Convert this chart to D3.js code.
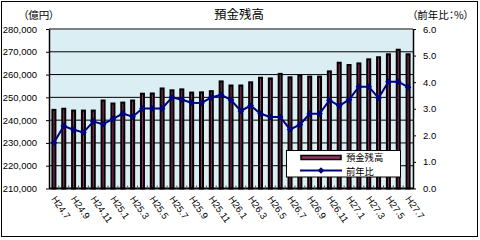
<!DOCTYPE html>
<html>
<head>
<meta charset="utf-8">
<script src="https://cdn.jsdelivr.net/npm/d3@7"></script>
<style>
  body { margin: 0; background: #fff; }
  text { font-family: "Liberation Sans", "Noto Sans CJK JP", sans-serif; }
  .jp { font-family: "Noto Sans CJK JP", sans-serif; font-feature-settings: "palt"; }
</style>
</head>
<body>
<div id="chart"></div>
<script>
// data
var months = ["H24.7","H24.8","H24.9","H24.10","H24.11","H24.12",
  "H25.1","H25.2","H25.3","H25.4","H25.5","H25.6","H25.7","H25.8","H25.9","H25.10","H25.11","H25.12",
  "H26.1","H26.2","H26.3","H26.4","H26.5","H26.6","H26.7","H26.8","H26.9","H26.10","H26.11","H26.12",
  "H27.1","H27.2","H27.3","H27.4","H27.5","H27.6","H27.7"];

// 預金残高 (億円)
var balance = [244500, 245000, 244200, 244200, 244200, 248600,
  247300, 247700, 248600, 251600, 251700, 253900, 253100, 253500, 252100, 252200, 252700, 257000,
  255200, 255200, 256600, 258600, 258300, 260300, 258800, 259700, 259100, 259100, 261400, 265200,
  264200, 264900, 266700, 267600, 268900, 270900, 268900];

// 前年比 (%)
var yoy = [1.72, 2.35, 2.21, 2.11, 2.52, 2.42,
  2.62, 2.82, 2.70, 3.01, 3.01, 3.01, 3.43, 3.34, 3.23, 3.22, 3.43, 3.52,
  3.33, 2.92, 3.12, 2.81, 2.69, 2.69, 2.22, 2.40, 2.81, 2.81, 3.32, 3.11,
  3.34, 3.83, 3.83, 3.40, 4.02, 4.02, 3.81];

var leftTicks = [210000, 220000, 230000, 240000, 250000, 260000, 270000, 280000];
var rightTicks = [0, 1, 2, 3, 4, 5, 6];

var W = 480, H = 240;
var plot = {left: 49, right: 413, top: 29, bottom: 188.5};

var svg = d3.select("#chart").append("svg")
    .attr("width", W)
    .attr("height", H);

// outer frame
svg.append("rect")
  .attr("x", 1.5).attr("y", 1.5).attr("width", 476).attr("height", 235)
  .attr("fill", "#fff").attr("stroke", "#000").attr("stroke-width", 1);

var x = d3.scaleBand().domain(months).range([plot.left, plot.right]);
var y = d3.scaleLinear().domain([210000, 280000]).range([plot.bottom, plot.top]);
var y2 = d3.scaleLinear().domain([0, 6]).range([plot.bottom, plot.top]);
var cx = function(m) { return x(m) + x.bandwidth() / 2; };

// plot background
svg.append("rect")
  .attr("x", plot.left).attr("y", plot.top)
  .attr("width", plot.right - plot.left).attr("height", plot.bottom - plot.top)
  .attr("fill", "#DBEEF4");

// gridlines
svg.append("g").selectAll("line")
  .data(leftTicks.slice(1, -1))
  .enter().append("line")
    .attr("x1", plot.left).attr("x2", plot.right)
    .attr("y1", function(d) { return y(d); })
    .attr("y2", function(d) { return y(d); })
    .attr("stroke", "#000").attr("stroke-width", 1);

// bars
svg.append("g").selectAll("rect")
  .data(months)
  .enter().append("rect")
    .attr("x", function(m) { return cx(m) - 1.5; })
    .attr("width", 3)
    .attr("y", function(m, i) { return y(balance[i]); })
    .attr("height", function(m, i) { return plot.bottom - y(balance[i]); })
    .attr("fill", "#993366")
    .attr("stroke", "#000")
    .attr("stroke-width", 2);

// plot border top in grey
svg.append("line")
  .attr("x1", plot.left).attr("x2", plot.right).attr("y1", plot.top).attr("y2", plot.top)
  .attr("stroke", "#808080").attr("stroke-width", 2);

// line series
var line = d3.line()
  .x(function(d, i) { return cx(months[i]); })
  .y(function(d) { return y2(d); });

svg.append("path")
  .datum(yoy)
  .attr("d", line)
  .attr("fill", "none")
  .attr("stroke", "#000080")
  .attr("stroke-width", 2);

svg.append("g").selectAll("path")
  .data(yoy)
  .enter().append("path")
    .attr("d", d3.symbol(d3.symbolDiamond2, 28))
    .attr("transform", function(d, i) { return "translate(" + cx(months[i]) + "," + y2(d) + ")"; })
    .attr("fill", "#000080");

// left axis
var gl = svg.append("g")
  .attr("transform", "translate(" + plot.left + ",0)")
  .call(d3.axisLeft(y).tickValues(leftTicks).tickFormat(d3.format(",")).tickSize(3).tickSizeOuter(0).tickPadding(9));

// right axis
var gr = svg.append("g")
  .attr("transform", "translate(" + plot.right + ",0)")
  .call(d3.axisRight(y2).tickValues(rightTicks).tickFormat(d3.format(".1f")).tickSize(3).tickSizeOuter(0).tickPadding(7));

[gl, gr].forEach(function(g) {
  g.select(".domain").attr("stroke", "#000").attr("stroke-width", 1.5);
  g.selectAll("text").style("font-size", "9.5px").attr("fill", "#000");
});

// bottom axis: ticks between categories, labels every other month
var gb = svg.append("g");
gb.append("line")
  .attr("x1", plot.left).attr("x2", plot.right)
  .attr("y1", plot.bottom).attr("y2", plot.bottom)
  .attr("stroke", "#000").attr("stroke-width", 2);
gb.selectAll(".tk")
  .data(months.slice(1))
  .enter().append("line")
    .attr("x1", function(m) { return x(m); })
    .attr("x2", function(m) { return x(m); })
    .attr("y1", plot.bottom).attr("y2", plot.bottom - 3)
    .attr("stroke", "#555").attr("stroke-width", 1);

gb.selectAll(".lbl")
  .data(months.filter(function(m, i) { return i % 2 === 0; }))
  .enter().append("text")
    .attr("transform", function(m) { return "translate(" + (cx(m) - 3) + ",199) rotate(55)"; })
    .style("font-size", "9.5px")
    .text(function(m) { return m; });

// titles
svg.append("text").attr("class", "jp")
  .attr("x", 239).attr("y", 19).attr("text-anchor", "middle")
  .style("font-size", "12.5px").text("預金残高");
svg.append("text").attr("class", "jp")
  .attr("x", 23).attr("y", 19)
  .style("font-size", "10.5px").text("（億円）");
svg.append("text").attr("class", "jp")
  .attr("x", 469).attr("y", 19).attr("text-anchor", "end")
  .style("font-size", "10.5px").text("（前年比：%）");

// legend
var lg = svg.append("g");
lg.append("rect")
  .attr("x", 286.5).attr("y", 150.5).attr("width", 114).attr("height", 26.5)
  .attr("fill", "#fff").attr("stroke", "#000").attr("stroke-width", 1);
lg.append("rect")
  .attr("x", 301).attr("y", 155.5).attr("width", 40).attr("height", 4)
  .attr("fill", "#993366").attr("stroke", "#000").attr("stroke-width", 1.5);
lg.append("line")
  .attr("x1", 300).attr("x2", 342).attr("y1", 170.5).attr("y2", 170.5)
  .attr("stroke", "#000080").attr("stroke-width", 2);
lg.append("path")
  .attr("d", d3.symbol(d3.symbolDiamond2, 28))
  .attr("transform", "translate(321,170.5)")
  .attr("fill", "#000080");
lg.append("text").attr("class", "jp")
  .attr("x", 346).attr("y", 161)
  .style("font-size", "9.3px").text("預金残高");
lg.append("text").attr("class", "jp")
  .attr("x", 346).attr("y", 174.5)
  .style("font-size", "9.3px").text("前年比");
</script>
</body>
</html>
